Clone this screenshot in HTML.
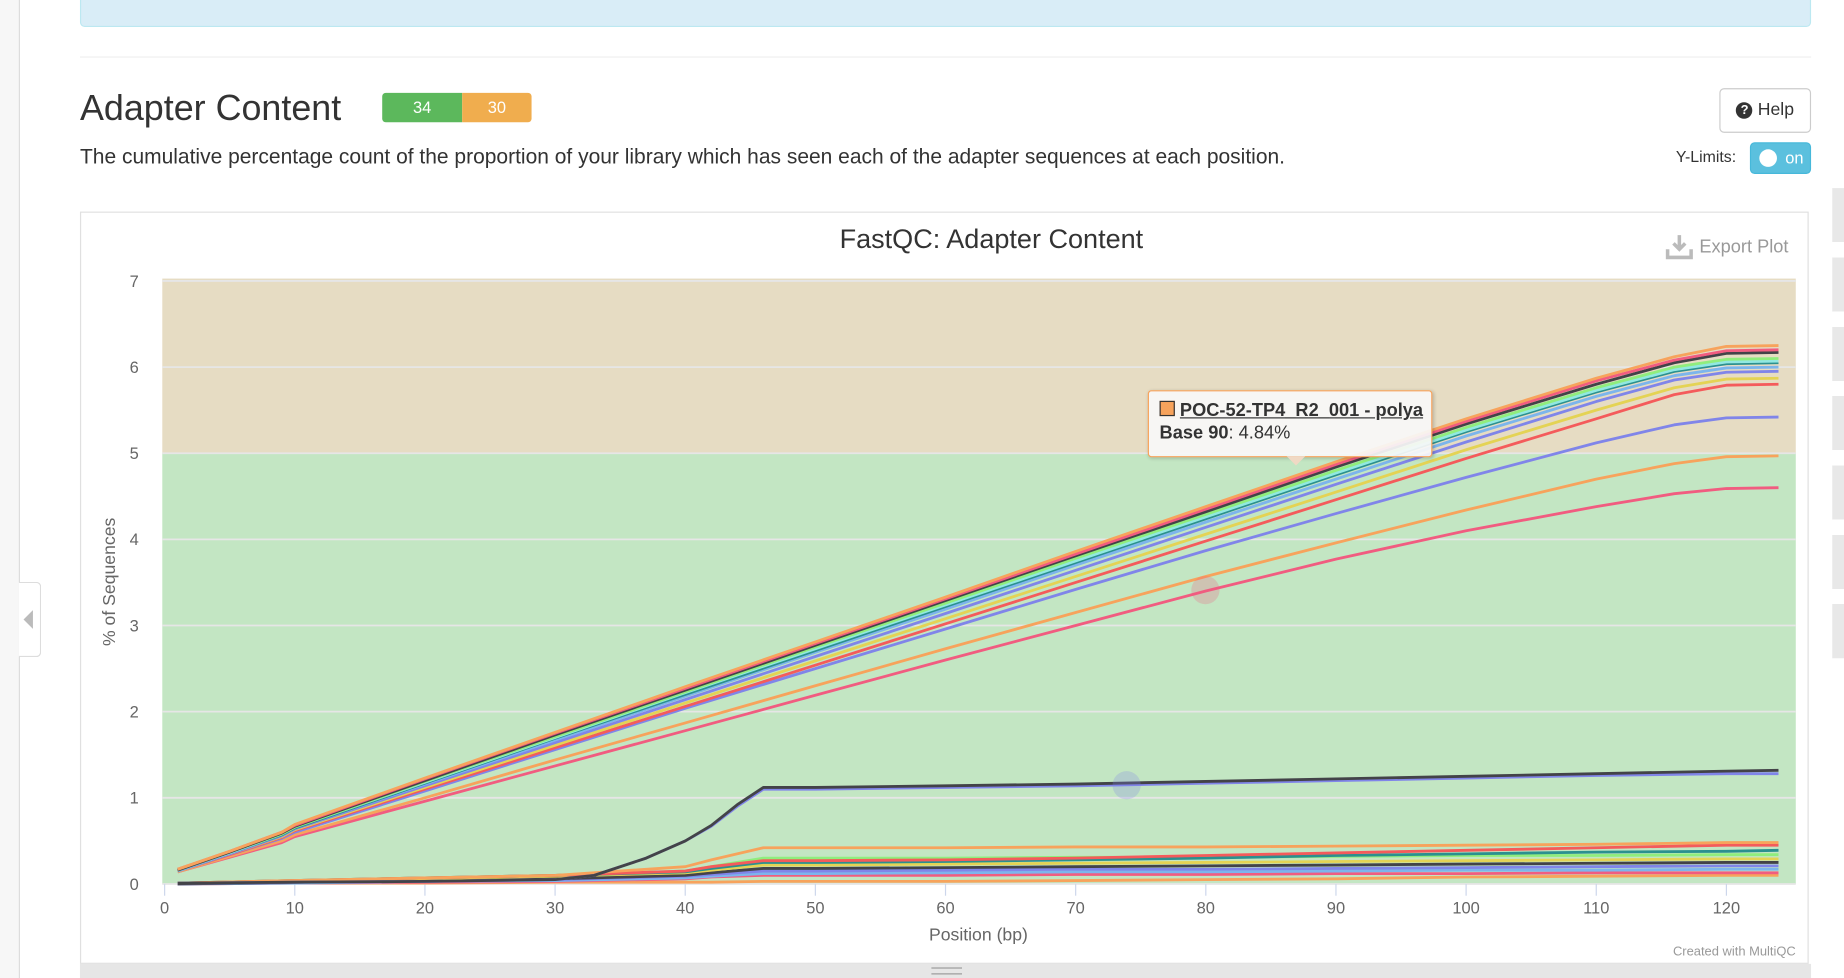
<!DOCTYPE html>
<html><head><meta charset="utf-8">
<style>
html,body{margin:0;padding:0;background:#fff;overflow:hidden;width:1844px;height:978px}
#wrap{position:absolute;left:0;top:0;width:1568px;height:832px;transform:scale(1.17602,1.17548);transform-origin:0 0;font-family:"Liberation Sans",sans-serif;color:#333}
.abs{position:absolute}
</style></head><body>
<div id="wrap">
  <div class="abs" style="left:0;top:0;width:16px;height:832px;border-right:1px solid #ddd;background:#f7f7f7"></div>
  <div class="abs" style="left:16px;top:495px;width:18px;height:62px;background:#fff;border:1px solid #ddd;border-left:none;border-radius:0 4px 4px 0"><div style="position:absolute;left:4px;top:23px;width:0;height:0;border-top:8px solid transparent;border-bottom:8px solid transparent;border-right:8px solid #bbb"></div></div>
  <div class="abs" style="left:68px;top:-4px;width:1470px;height:25px;background:#d9edf7;border:1px solid #bce8f1;border-radius:4px"></div>
  <div class="abs" style="left:68px;top:48px;width:1472px;height:1px;background:#eee"></div>
  <div class="abs" style="left:68px;top:74px;font-size:30.5px;line-height:36px;color:#333">Adapter Content</div>
  <div class="abs" style="left:325px;top:79px;width:68px;height:25px;background:#5cb85c;color:#fff;font-size:14px;line-height:25px;text-align:center;border-radius:3px 0 0 3px">34</div>
  <div class="abs" style="left:393px;top:79px;width:59px;height:25px;background:#f0ad4e;color:#fff;font-size:14px;line-height:25px;text-align:center;border-radius:0 3px 3px 0">30</div>
  <div class="abs" style="left:1462px;top:75px;width:76px;height:36px;border:1px solid #ccc;border-radius:4px;font-size:15px;line-height:36px;text-align:center;background:#fff"><span style="display:inline-block;width:14px;height:14px;border-radius:7px;background:#333;color:#fff;font-size:11px;line-height:14px;font-weight:bold;vertical-align:1px">?</span> Help</div>
  <div class="abs" style="left:68px;top:122px;font-size:17.85px;line-height:22px">The cumulative percentage count of the proportion of your library which has seen each of the adapter sequences at each position.</div>
  <div class="abs" style="left:1425px;top:126px;font-size:13.5px">Y-Limits:</div>
  <div class="abs" style="left:1488px;top:121px;width:52px;height:27px;background:#5bc0de;border-radius:4px;border:1px solid #46b8da;box-sizing:border-box"><div style="position:absolute;left:7px;top:5px;width:15px;height:15px;border-radius:8px;background:#fff"></div><div style="position:absolute;left:29px;top:4px;color:#fff;font-size:14px">on</div></div>
  <div class="abs" style="left:1558px;top:160px;width:10px;height:400px;background:repeating-linear-gradient(#e8e8e8 0 46px,#fff 46px 59px)"></div>
  <div class="abs" style="left:68px;top:180px;width:1470px;height:640px;border:1px solid #e0e0e0;box-sizing:border-box"></div>
  <div class="abs" style="left:68px;top:820px;width:1472px;height:12px;background:#e6e6e6"><div style="position:absolute;left:724px;top:3px;width:26px;height:4px;border-top:1px solid #999;border-bottom:1px solid #999"></div></div>
  <svg class="abs" style="left:0;top:0" width="1568" height="832">
    <text x="843" y="211" text-anchor="middle" font-size="23" fill="#333">FastQC: Adapter Content</text>
    <g>
      <path d="M1418 212v7h20v-7M1428 200v12M1423 207l5 5 5-5" stroke="#bbb" stroke-width="3" fill="none"/>
      <text x="1445" y="215" font-size="15.5" fill="#999">Export Plot</text>
    </g>
    <g id="plot"></g>
    <text x="1527" y="813" text-anchor="end" font-size="11" fill="#999">Created with MultiQC</text>
  </svg>
  <div class="abs" style="left:976px;top:332px;width:242px;height:57px;background:rgba(247,247,247,0.93);border:1px solid #f7a35c;border-radius:3px;box-shadow:1px 1px 3px rgba(0,0,0,.2);font-size:15.5px;line-height:19px;padding:7px 9px;box-sizing:border-box;white-space:nowrap">
    <div><span style="display:inline-block;width:11px;height:11px;background:#f7a35c;border:1px solid #333;vertical-align:0"></span> <b style="text-decoration:underline">POC-52-TP4_R2_001 - polya</b></div>
    <div><b>Base 90</b>: 4.84%</div>
    <div style="position:absolute;left:117px;bottom:-8px;width:0;height:0;border-left:8px solid transparent;border-right:8px solid transparent;border-top:8px solid #f0d9c4"></div>
  </div>
</div>
<script>
const posTop=[1,5,9,10,20,30,40,50,60,70,80,90,100,110,116,120,124];
const topA=[0.17,0.38,0.6,0.69,1.23,1.76,2.29,2.81,3.33,3.86,4.38,4.9,5.4,5.87,6.12,6.24,6.25];
const topB=[0.17,0.38,0.6,0.68,1.22,1.75,2.27,2.79,3.31,3.83,4.35,4.87,5.37,5.84,6.08,6.19,6.2];
const topC=[0.16,0.37,0.59,0.67,1.2,1.73,2.25,2.77,3.29,3.81,4.32,4.84,5.34,5.8,6.05,6.16,6.17];
const topD=[0.16,0.37,0.58,0.66,1.19,1.71,2.23,2.75,3.26,3.78,4.29,4.8,5.3,5.76,6.0,6.09,6.1];
const topE=[0.16,0.36,0.58,0.66,1.18,1.7,2.22,2.73,3.24,3.75,4.26,4.77,5.27,5.73,5.97,6.06,6.07];
const topF=[0.16,0.36,0.57,0.65,1.17,1.69,2.2,2.71,3.22,3.73,4.24,4.75,5.25,5.71,5.95,6.04,6.05];
const topG=[0.15,0.36,0.57,0.65,1.16,1.67,2.18,2.69,3.19,3.7,4.2,4.7,5.2,5.66,5.9,5.99,6.0];
const topH=[0.15,0.35,0.56,0.64,1.14,1.64,2.14,2.64,3.14,3.64,4.14,4.64,5.13,5.6,5.85,5.94,5.95];
const topI=[0.15,0.35,0.55,0.63,1.12,1.61,2.1,2.59,3.08,3.57,4.06,4.55,5.04,5.5,5.76,5.86,5.87];
const topJ=[0.15,0.34,0.54,0.62,1.1,1.58,2.06,2.54,3.02,3.5,3.98,4.46,4.94,5.4,5.68,5.79,5.8];
const topK=[0.15,0.34,0.53,0.6,1.08,1.56,2.04,2.5,2.96,3.42,3.87,4.3,4.72,5.12,5.33,5.41,5.42];
const topL=[0.14,0.32,0.5,0.57,1.0,1.44,1.87,2.3,2.73,3.15,3.57,3.96,4.34,4.7,4.88,4.96,4.97];
const topM=[0.14,0.31,0.48,0.55,0.96,1.37,1.78,2.19,2.6,3.0,3.4,3.77,4.1,4.38,4.53,4.59,4.6];
const posMid=[1,10,20,30,33,37,40,42,44,46,50,60,70,80,90,100,110,120,124];
const midN=[0.01,0.02,0.03,0.05,0.1,0.3,0.5,0.68,0.92,1.12,1.12,1.14,1.16,1.19,1.22,1.25,1.28,1.31,1.32];
const midO=[0.01,0.02,0.03,0.05,0.1,0.3,0.5,0.67,0.9,1.1,1.1,1.12,1.14,1.17,1.2,1.23,1.26,1.28,1.28];
const posLow=[1,10,20,30,40,42,46,50,60,70,80,90,100,110,120,124];
const lowA=[0.01,0.04,0.07,0.1,0.2,0.28,0.42,0.42,0.42,0.43,0.43,0.44,0.45,0.46,0.48,0.48];
const lowB=[0.01,0.04,0.07,0.1,0.15,0.2,0.27,0.27,0.28,0.3,0.33,0.36,0.39,0.42,0.45,0.45];
const lowC=[0.01,0.04,0.07,0.1,0.14,0.18,0.25,0.25,0.26,0.28,0.3,0.33,0.35,0.37,0.38,0.39];
const lowD=[0.01,0.04,0.07,0.1,0.15,0.2,0.3,0.3,0.3,0.31,0.31,0.32,0.33,0.33,0.34,0.34];
const lowE=[0.01,0.03,0.06,0.09,0.13,0.16,0.22,0.22,0.23,0.24,0.25,0.26,0.27,0.28,0.29,0.29];
const lowF=[0.0,0.02,0.04,0.06,0.1,0.13,0.18,0.18,0.19,0.2,0.21,0.22,0.23,0.24,0.25,0.25];
const lowG=[0.0,0.02,0.03,0.05,0.09,0.11,0.15,0.15,0.16,0.17,0.17,0.18,0.19,0.2,0.21,0.21];
const lowH=[0,0.01,0.03,0.04,0.07,0.09,0.12,0.12,0.13,0.14,0.14,0.15,0.16,0.16,0.17,0.17];
const lowI=[0,0.01,0.02,0.03,0.06,0.08,0.1,0.1,0.1,0.11,0.11,0.12,0.12,0.13,0.13,0.13];
const lowJ=[0,0.01,0.01,0.02,0.02,0.02,0.03,0.03,0.03,0.04,0.05,0.06,0.08,0.09,0.1,0.1];
const xTicks=[0,10,20,30,40,50,60,70,80,90,100,110,120];
const yTicks=[0,1,2,3,4,5,6,7];

const NS='http://www.w3.org/2000/svg';
const X0=140,XS=(1468-140)/120,Y0=752,YS=(752-239)/7;
const xs=v=>X0+v*XS, ys=v=>Y0-v*YS;
const g=document.getElementById('plot');
function mk(tag,at){const e=document.createElementNS(NS,tag);for(const k in at)e.setAttribute(k,at[k]);g.appendChild(e);return e;}
let r=mk('rect',{x:138,y:ys(5),width:1389,height:ys(0)-ys(5),fill:'#c3e6c3'});


r=mk('rect',{x:138,y:237,width:1389,height:ys(5)-237,fill:'#e6dcc3'});


yTicks.forEach(t=>{
  const l=mk('line',{x1:138,x2:1527,y1:ys(t),y2:ys(t),stroke:'#e6e6e6','stroke-width':1.5});
  
  
  const tx=mk('text',{x:118,y:ys(t)+5,'text-anchor':'end','font-size':14,fill:'#666'});
  tx.textContent=t;
  
  
});
xTicks.forEach(t=>{
  const l=mk('line',{x1:xs(t),x2:xs(t),y1:752,y2:762,stroke:'#ccd6eb'});
  
  
  const tx=mk('text',{x:xs(t),y:777,'text-anchor':'middle','font-size':14,fill:'#666'});
  tx.textContent=t;
  
  
});
let ax=mk('text',{x:832,y:800,'text-anchor':'middle','font-size':15,fill:'#666'});
ax.textContent='Position (bp)';


ax=mk('text',{x:0,y:0,transform:'translate(98,495) rotate(-90)','text-anchor':'middle','font-size':15,fill:'#666'});
ax.textContent='% of Sequences';


const series=[
 [posLow,lowJ,'#f7a35c'],[posLow,lowI,'#f15c80'],[posLow,lowH,'#7cb5ec'],[posLow,lowG,'#8085e9'],[posLow,lowF,'#434348'],
 [posLow,lowE,'#e4d354'],[posLow,lowD,'#90ed7d'],[posLow,lowC,'#2b908f'],[posLow,lowB,'#f45b5b'],[posLow,lowA,'#f7a35c'],
 [posMid,midO,'#8085e9'],[posMid,midN,'#434348'],
 [posTop,topM,'#f15c80'],[posTop,topL,'#f7a35c'],[posTop,topK,'#8085e9'],[posTop,topJ,'#f45b5b'],[posTop,topI,'#e4d354'],
 [posTop,topH,'#8085e9'],[posTop,topG,'#7cb5ec'],[posTop,topF,'#2b908f'],[posTop,topE,'#91e8e1'],[posTop,topD,'#90ed7d'],
 [posTop,topC,'#434348'],[posTop,topB,'#f15c80'],[posTop,topA,'#f7a35c']
];
series.forEach((s,i)=>{
  const d=s[0].map((p,j)=>(j?'L':'M')+xs(p).toFixed(1)+' '+ys(s[1][j]).toFixed(1)).join(' ');
  const p=mk('path',{d:d,fill:'none',stroke:s[2],'stroke-width':2.4,'stroke-linejoin':'round'});
  
  
});
let c=mk('circle',{cx:1025,cy:502,r:12,fill:'#f15c80','fill-opacity':0.25});


c=mk('circle',{cx:958,cy:668,r:12,fill:'#8085e9','fill-opacity':0.25});


</script>
</body></html>
